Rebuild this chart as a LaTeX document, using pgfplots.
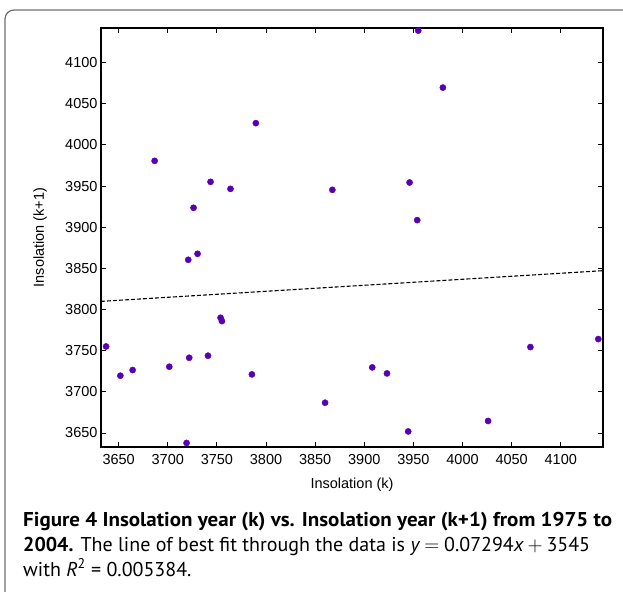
\documentclass[border=0pt]{standalone}
\usepackage{pgfplots}
\pgfplotsset{compat=1.18}
\usepackage{fontspec}
\setmainfont{Liberation Sans}
\newfontfamily\capfont{PT Sans}
\definecolor{mk}{RGB}{90,0,180}
\definecolor{framegray}{RGB}{110,110,110}

\begin{document}
\begin{tikzpicture}[x=1pt,y=1pt]
\path[use as bounding box] (0,0) rectangle (623,591);
% panel frame, cut off at the right and bottom
\draw[framegray, line width=1.2pt, rounded corners=9pt] (660,581) -- (5,581) -- (5,-30);

\begin{axis}[
    at={(101pt,144pt)}, anchor=south west,
    scale only axis,
    width=502pt, height=419pt,
    xmin=3632, xmax=4143,
    ymin=3633, ymax=4142,
    xtick={3650,3700,...,4100},
    ytick={3650,3700,...,4100},
    tick align=inside,
    major tick length=5pt,
    axis line style={line width=1.1pt},
    tick style={line width=0.9pt, black},
    ticklabel style={font=\fontsize{14.5}{16}\selectfont},
    xticklabel style={yshift=-4pt},
    /pgf/number format/assume math mode=true,
    /pgf/number format/set thousands separator={},
    xlabel={Insolation (k)},
    ylabel={Insolation (k+1)},
    every axis x label/.style={at={(axis description cs:0.5,-0.0907)}, anchor=center,
        font=\fontsize{14.5}{16}\selectfont},
    every axis y label/.style={at={(axis description cs:-0.1215,0.5)}, anchor=center, rotate=90,
        font=\fontsize{14.5}{16}\selectfont},
    clip=false,
]
% line of best fit y = 0.07294x + 3545
\addplot[black, line width=1.1pt, dash pattern=on 4pt off 2pt]
coordinates {(3632,3809.9) (4143,3847.2)};

\addplot[only marks, mark=*, mark size=3.1pt, color=mk, mark options={fill=mk, draw=mk}]
coordinates {
(3637.2,3755.1) (3651.7,3719.6) (3664.2,3726.5) (3686.6,3980.6)
(3701.5,3730.5) (3719.1,3637.9) (3720.8,3860.4) (3721.8,3741.4)
(3726.2,3923.6) (3730.3,3867.7) (3740.9,3743.9) (3743.5,3955.1)
(3753.7,3790.0) (3755.1,3786.0) (3763.8,3946.6) (3785.6,3721.2)
(3789.6,4026.4) (3860.1,3686.8) (3867.5,3945.4) (3908.1,3729.7)
(3923.1,3722.4) (3944.7,3651.9) (3946.1,3954.3) (3953.9,3908.6)
(3954.9,4138.8) (3980.0,4069.6) (4026.0,3664.6) (4069.1,3754.4)
(4138.2,3764.1)
};
\end{axis}

% caption
\begin{scope}[every node/.style={anchor=base west, inner sep=0pt, font=\capfont\fontsize{20}{24}\selectfont}]
\node at (23,64) {\scalebox{1.05}[1]{\bfseries Figure 4 Insolation year (k) vs. Insolation year (k+1) from 1975 to}};
\node at (23,39) {\textbf{2004.} The line of best fit through the data is {\itshape y}\hspace{5pt}$=$\hspace{5pt}0.07294{\itshape x}\hspace{4pt}$+$\hspace{4pt}3545};
\node at (23,15) {with {\itshape R}\textsuperscript{2} = 0.005384.};
\end{scope}
\end{tikzpicture}
\end{document}
